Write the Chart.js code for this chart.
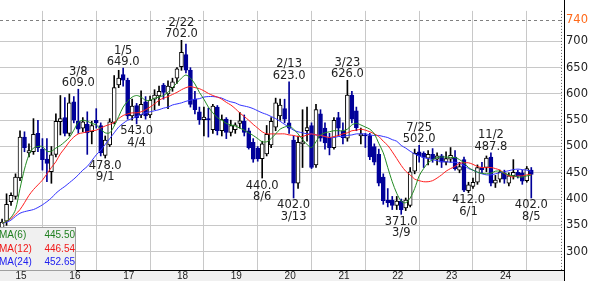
<!DOCTYPE html>
<html>
<head>
<meta charset="utf-8">
<script src="https://cdn.jsdelivr.net/npm/chart.js@4.4.0/dist/chart.umd.min.js"></script>
<style>
  html, body { margin: 0; padding: 0; background: #fff; }
</style>
</head>
<body>
<canvas id="chart" width="593" height="281"></canvas>
<script>
// monthly candles, first one is 2014/10
const firstMonth = [2014, 10];
const yearLabels = ['15', '16', '17', '18', '19', '20', '21', '22', '23', '24'];
const yTicks = [300, 350, 400, 450, 500, 550, 600, 650, 700, 740];

const open = [
  345, 358, 395, 405, 440, 518, 488, 490, 525, 495,
  476, 452, 485, 547, 555, 525, 585, 548, 535, 542,
  528, 550, 540, 483, 503, 546, 617, 637, 626, 558,
  578, 560, 585, 560, 590, 596, 617, 600, 612, 630,
  652, 675, 645, 590, 566, 551, 553, 532, 575, 530,
  552, 527, 532, 544, 548, 530, 508, 497, 477, 486,
  503, 537, 558, 572, 545, 512, 430, 505, 530, 540,
  465, 562, 535, 516, 498, 555, 530, 516, 598, 568,
  520, 522, 521, 500, 485, 442, 398, 398, 388, 396,
  383, 388, 453, 490, 487, 478, 485, 476, 482, 470,
  476, 480, 455, 475, 416, 424, 432, 460, 460, 480,
  430, 438, 450, 430, 444, 451, 450, 435, 455
];
const high = [
  362, 410, 412, 448, 530, 528, 505, 553, 550, 515,
  515, 500, 562, 597, 593, 600, 595, 609, 555, 566,
  548, 572, 545, 520, 553, 635, 645, 649, 630, 590,
  582, 606, 595, 596, 608, 615, 620, 625, 630, 650,
  702, 695, 650, 605, 575, 575, 573, 580, 578, 560,
  555, 550, 545, 565, 560, 535, 515, 500, 510, 540,
  555, 592, 590, 590, 623, 520, 520, 570, 575, 545,
  580, 570, 545, 525, 555, 565, 545, 626, 605, 575,
  535, 525, 525, 505, 495, 448, 420, 405, 405, 400,
  402, 460, 495, 502, 490, 492, 496, 488, 485, 490,
  498, 492, 470, 480, 432, 440, 465, 470, 482, 487.8,
  445, 455, 455, 450, 475, 455, 455, 462, 460
];
const low = [
  335, 350, 388, 400, 435, 490, 480, 485, 490, 455,
  433, 430, 480, 522, 520, 520, 545, 525, 528, 485,
  505, 535, 482, 478, 500, 543, 612, 615, 552, 550,
  543, 555, 552, 555, 570, 578, 590, 572, 605, 620,
  645, 640, 575, 562, 542, 520, 518, 525, 522, 520,
  515, 520, 525, 535, 520, 495, 470, 472, 440, 482,
  498, 530, 550, 545, 525, 402, 420, 460, 510, 458,
  460, 510, 495, 484, 495, 520, 505, 510, 545, 530,
  505, 498, 475, 465, 425, 390, 385, 380, 380, 371,
  378, 385, 448, 470, 460, 465, 470, 465, 460, 465,
  470, 455, 450, 414, 412, 420, 428, 450, 452, 425,
  422, 432, 430, 425, 438, 440, 428, 432, 402
];
const close = [
  356, 390, 407, 442, 518, 498, 492, 523, 498, 475,
  468, 484, 548, 553, 525, 583, 550, 533, 547, 526,
  540, 545, 488, 512, 547, 612, 630, 626, 558, 577,
  555, 580, 558, 588, 598, 605, 603, 615, 623, 648,
  679, 645, 580, 570, 551, 556, 551, 577, 530, 551,
  527, 540, 541, 549, 527, 498, 476, 477, 505, 523,
  548, 583, 579, 552, 535, 430, 508, 509, 536, 460,
  570, 516, 507, 498, 550, 535, 517, 598, 552, 536,
  524, 520, 480, 470, 430, 397, 393, 388, 396, 380,
  398, 452, 487, 482, 479, 485, 476, 482, 470, 477,
  483, 458, 462, 417, 427, 432, 460, 456, 478, 430,
  436, 451, 438, 444, 451, 444, 434, 458, 447
];

// moving averages
const ma6 = [
  354, 358, 365, 380, 420, 457, 484, 497, 500, 500,
  491, 491, 497, 502, 509, 517, 531, 546, 550, 548,
  544, 541, 533, 526, 526, 539, 557, 575, 586, 594,
  597, 594, 588, 588, 592, 594, 597, 603, 612, 621,
  630, 636, 630, 619, 603, 590, 575, 564, 555, 550,
  544, 541, 539, 535, 531, 526, 521, 515, 509, 509,
  515, 524, 533, 537, 539, 533, 524, 513, 504, 498,
  509, 522, 526, 528, 530, 530, 530, 533, 541, 544,
  541, 537, 533, 524, 506, 488, 460, 433, 411, 396,
  393, 402, 420, 444, 458, 469, 475, 479, 480, 480,
  479, 479, 475, 469, 460, 455, 451, 449, 448, 449,
  453, 453, 449, 446, 444, 442, 442, 444, 445.50
];
const ma12 = [
  354, 358, 363, 371, 380, 393, 407, 418, 427, 436,
  448, 460, 471, 486, 497, 509, 518, 524, 526, 528,
  530, 531, 535, 539, 542, 546, 553, 559, 562, 564,
  564, 566, 570, 575, 581, 588, 592, 595, 599, 603,
  608, 612, 614, 612, 610, 606, 601, 597, 594, 590,
  584, 579, 572, 564, 557, 550, 542, 535, 528, 524,
  524, 524, 524, 524, 522, 521, 519, 519, 522, 524,
  522, 521, 519, 517, 519, 521, 524, 526, 530, 531,
  533, 531, 528, 524, 519, 510, 502, 490, 477, 464,
  453, 446, 438, 435, 433, 433, 435, 440, 446, 453,
  458, 462, 468, 469, 469, 466, 462, 460, 460, 460,
  458, 455, 449, 444, 442, 444, 444, 446, 446.54
];
const ma24 = [
  354, 356, 360, 367, 373, 376, 378, 380, 384, 389,
  395, 402, 411, 418, 424, 431, 438, 446, 455, 462,
  473, 484, 493, 504, 515, 526, 537, 544, 550, 553,
  557, 561, 564, 566, 568, 570, 573, 575, 579, 581,
  583, 586, 588, 590, 591, 594, 595, 595, 594, 592,
  588, 585, 583, 579, 577, 575, 572, 568, 564, 561,
  557, 553, 548, 542, 537, 531, 528, 526, 524, 524,
  522, 521, 519, 517, 517, 519, 519, 521, 522, 524,
  524, 524, 522, 521, 521, 519, 517, 513, 510, 502,
  497, 491, 486, 482, 479, 477, 475, 473, 471, 471,
  470, 470, 468, 464, 458, 455, 451, 448, 446, 446,
  448, 450, 452, 454, 456, 457, 456, 455, 452.65
];

// labelled highs and lows: month, day, price
const highMarks = [
  ['2016/03', '3/8', 609.0], ['2017/01', '1/5', 649.0], ['2018/02', '2/22', 702.0],
  ['2020/02', '2/13', 623.0], ['2021/03', '3/23', 626.0], ['2022/07', '7/25', 502.0],
  ['2023/11', '11/2', 487.8]
];
const lowMarks = [
  ['2016/09', '9/1', 478.0], ['2017/04', '4/4', 543.0], ['2019/08', '8/6', 440.0],
  ['2020/03', '3/13', 402.0], ['2022/03', '3/9', 371.0], ['2023/06', '6/1', 412.0],
  ['2024/08', '8/5', 402.0]
];

const months = open.map((_, i) => {
  const m = firstMonth[1] - 1 + i;
  return (firstMonth[0] + Math.floor(m / 12)) + '/' + String(m % 12 + 1).padStart(2, '0');
});
const janIdx = months.map((m, i) => m.endsWith('/01') ? i : -1).filter(i => i >= 0);

const UP = '#ffffff', DOWN = '#000099', EDGE = '#000000';
const isUp = i => close[i] >= open[i];

const maSets = [
  { name: 'MA(6)', data: ma6, line: '#228b22', text: '#1f7f1f' },
  { name: 'MA(12)', data: ma12, line: '#ff2020', text: '#f01818' },
  { name: 'MA(24)', data: ma24, line: '#3333ff', text: '#2020f0' }
];

const decor = {
  id: 'decor',
  beforeDraw(chart) {
    const { ctx, chartArea: a } = chart;
    ctx.save();
    ctx.fillStyle = '#fff';
    ctx.fillRect(0, 0, chart.width, chart.height);
    ctx.fillStyle = '#f0f0f0';
    ctx.fillRect(0, a.bottom, a.right + 2, chart.height - a.bottom);
    ctx.restore();
  },
  beforeDatasetsDraw(chart) {
    const { ctx, chartArea: a, scales } = chart;
    const y = Math.round(scales.y.getPixelForValue(740)) + 0.5;
    ctx.save();
    ctx.strokeStyle = '#808080';
    ctx.lineWidth = 1;
    ctx.setLineDash([3, 3]);
    ctx.beginPath();
    ctx.moveTo(a.left, y);
    ctx.lineTo(a.right, y);
    ctx.stroke();
    ctx.restore();
  },
  afterDatasetsDraw(chart) {
    const { ctx, scales } = chart;
    ctx.save();
    ctx.font = '11.5px "DejaVu Sans"';
    ctx.fillStyle = '#222';
    ctx.textAlign = 'center';
    ctx.textBaseline = 'alphabetic';
    highMarks.forEach(([m, day, v]) => {
      const i = months.indexOf(m);
      const x = scales.x.getPixelForValue(i);
      const y = scales.y.getPixelForValue(high[i]);
      ctx.fillText(v.toFixed(1), x, y - 3);
      ctx.fillText(day, x, y - 14.5);
    });
    lowMarks.forEach(([m, day, v]) => {
      const i = months.indexOf(m);
      const x = scales.x.getPixelForValue(i);
      const y = scales.y.getPixelForValue(low[i]);
      ctx.fillText(v.toFixed(1), x, y + 10.5);
      ctx.fillText(day, x, y + 22);
    });
    ctx.restore();
  },
  afterDraw(chart) {
    const { ctx, chartArea: a } = chart;
    ctx.save();
    ctx.lineWidth = 1;
    // dotted right edge of the plot
    ctx.strokeStyle = '#606060';
    ctx.setLineDash([1, 2]);
    ctx.beginPath();
    ctx.moveTo(a.right - 0.5, a.top);
    ctx.lineTo(a.right - 0.5, a.bottom);
    ctx.stroke();
    ctx.setLineDash([]);
    ctx.strokeStyle = '#000';
    ctx.beginPath();
    ctx.moveTo(a.left, a.bottom + 0.5);
    ctx.lineTo(a.right + 2, a.bottom + 0.5);
    ctx.moveTo(a.right + 2.5, 0);
    ctx.lineTo(a.right + 2.5, chart.height);
    ctx.stroke();

    // MA legend box
    ctx.fillStyle = '#f0f0f0';
    ctx.strokeStyle = '#a0a0a0';
    ctx.fillRect(-1, 227, 77, 43);
    ctx.strokeRect(-0.5, 227.5, 76, 43);
    ctx.font = '10px "Liberation Sans"';
    ctx.textBaseline = 'middle';
    maSets.forEach((s, k) => {
      const y = 235.5 + k * 13.5;
      ctx.fillStyle = s.text;
      ctx.textAlign = 'left';
      ctx.fillText(s.name, -1, y);
      ctx.textAlign = 'right';
      ctx.fillText(s.data[s.data.length - 1].toFixed(2), 75, y);
    });
    ctx.restore();
  }
};

new Chart(document.getElementById('chart'), {
  type: 'bar',
  data: {
    datasets: [
      ...maSets.map(s => ({
        type: 'line',
        data: s.data.map((v, i) => ({ x: i, y: v })),
        borderColor: s.line,
        borderWidth: 1,
        pointRadius: 0,
        tension: 0.3,
        order: 1
      })),
      {
        type: 'bar',
        data: months.map((m, i) => ({ x: i, y: [open[i], close[i]] })),
        backgroundColor: months.map((m, i) => isUp(i) ? UP : DOWN),
        borderColor: months.map((m, i) => isUp(i) ? EDGE : DOWN),
        borderWidth: 1,
        borderSkipped: false,
        barThickness: 4,
        grouped: false,
        order: 2
      },
      {
        type: 'bar',
        data: months.map((m, i) => ({ x: i, y: [low[i], high[i]] })),
        backgroundColor: months.map((m, i) => isUp(i) ? EDGE : DOWN),
        borderWidth: 0,
        barThickness: 1,
        grouped: false,
        order: 3
      }
    ]
  },
  options: {
    responsive: false,
    animation: false,
    layout: { padding: 0 },
    plugins: { legend: { display: false }, tooltip: { enabled: false } },
    scales: {
      x: {
        type: 'linear',
        min: -0.46,
        max: 124.85,
        offset: false,
        grid: { color: '#c8c8c8', drawTicks: false },
        border: { display: false },
        ticks: {
          align: 'start',
          padding: 0,
          autoSkip: false,
          maxRotation: 0,
          color: '#222',
          font: { family: 'Liberation Sans', size: 10 },
          callback: v => yearLabels[janIdx.indexOf(v)]
        },
        afterBuildTicks: s => { s.ticks = janIdx.map(v => ({ value: v })); },
        afterFit: s => { s.height = 11; }
      },
      y: {
        position: 'right',
        min: 265,
        max: 758,
        grid: {
          color: c => c.tick && c.tick.value === 740 ? 'rgba(0,0,0,0)' : '#c8c8c8',
          drawTicks: false
        },
        border: { display: false },
        ticks: {
          padding: 4,
          color: c => c.tick && c.tick.value === 740 ? '#ff6a1a' : '#222',
          font: { family: 'DejaVu Sans', size: 11.5 },
          callback: v => String(v)
        },
        afterBuildTicks: s => { s.ticks = yTicks.map(v => ({ value: v })); },
        afterFit: s => { s.width = 31; }
      }
    }
  },
  plugins: [decor]
});
</script>
</body>
</html>
